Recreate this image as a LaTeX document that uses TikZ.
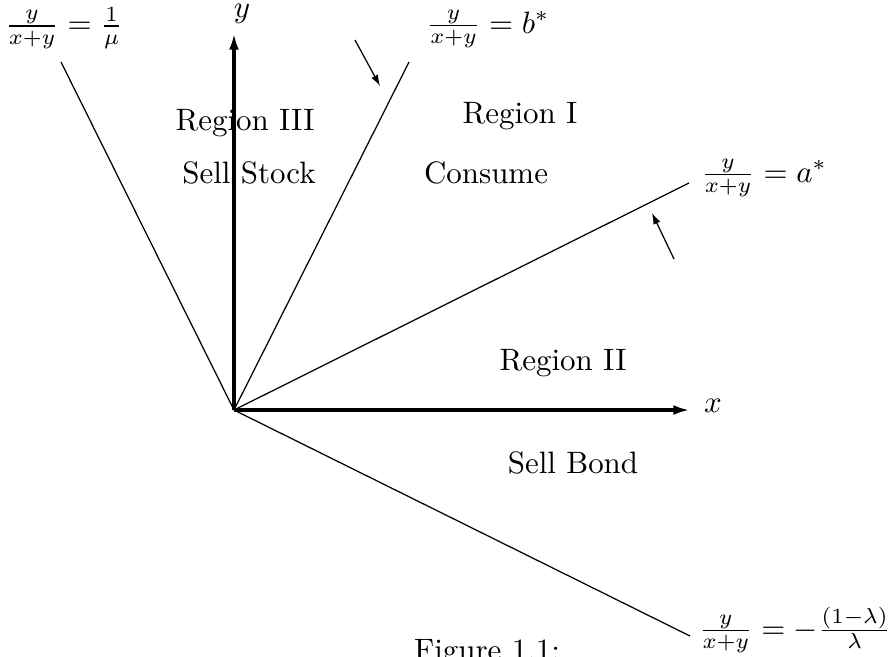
\documentclass[tikz,border=0pt]{standalone}
\usetikzlibrary{arrows.meta}

\begin{document}
\begin{tikzpicture}[
  x=0.323pt, y=-0.323pt,
  axis/.style={line width=1.1pt, -{Latex[length=5.4pt, width=3.2pt]}},
  ray/.style={line width=0.4pt},
  hint/.style={line width=0.4pt, -{Latex[length=3.6pt, width=2.4pt]}},
  lbl/.style={inner sep=0pt, anchor=base},
  eqn/.style={inner sep=0pt}
]
\useasboundingbox (0,0) rectangle (889,656);

% origin and ray ends
\coordinate (O) at (234,410);
\coordinate (ytip) at (234,33);
\coordinate (xtip) at (690,410);
\coordinate (mu) at (61,62);
\coordinate (bstar) at (409,62);
\coordinate (astar) at (689,183);
\coordinate (lam) at (690,636);

% axes
\draw[axis] (O) -- (ytip);
\draw[axis] (O) -- (xtip);
\node[lbl] (ylab) at (242,17) {$y$};
\node[lbl] (xlab) at (713,412) {$x$};

% boundaries
\draw[ray] (O) -- (mu);
\draw[ray] (O) -- (bstar);
\draw[ray] (O) -- (astar);
\draw[ray] (O) -- (lam);

\node[eqn] (mulab) at (64,28) {$\frac{y}{x+y}=\frac{1}{\mu}$};
\node[eqn] (blab) at (488,29) {$\frac{y}{x+y}=b^*$};
\node[eqn] (alab) at (764,178) {$\frac{y}{x+y}=a^*$};
\node[eqn] (lamlab) at (795,630) {$\frac{y}{x+y}=-\frac{(1-\lambda)}{\lambda}$};

% small arrows
\coordinate (b0) at (355,40);
\coordinate (b1) at (380,86);
\draw[hint] (b0) -- (b1);
\coordinate (a0) at (674,259);
\coordinate (a1) at (652,213);
\draw[hint] (a0) -- (a1);

% regions
\node[lbl] (r3) at (245,130) {Region III};
\node[lbl] (s3) at (249,183) {Sell Stock};
\node[lbl] (r1) at (520,123) {Region I};
\node[lbl] (c1) at (486,183) {Consume};
\node[lbl] (r2) at (563,370) {Region II};
\node[lbl] (s2) at (573,473) {Sell Bond};

\node[lbl] (cap) at (487,660) {Figure 1.1:};
\end{tikzpicture}
\end{document}
